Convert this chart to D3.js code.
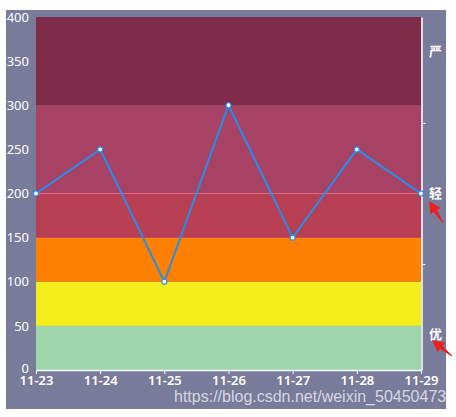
<!DOCTYPE html>
<html>
<head>
<meta charset="utf-8">
<script src="https://cdn.jsdelivr.net/npm/d3@7"></script>
<style>
  body { margin: 0; background: #fff; }
  svg { display: block; }
</style>
</head>
<body>
<script>
var width = 456,
    height = 417;

// data
var dates = ["11-23", "11-24", "11-25", "11-26", "11-27", "11-28", "11-29"];
var values = [200, 250, 100, 300, 150, 250, 200];
var yTicks = [0, 50, 100, 150, 200, 250, 300, 350, 400];

// colour bands (value ranges)
var bandFrom = [0, 50, 100, 150, 200, 300];
var bandTo = [50, 100, 150, 200, 300, 400];
var bandColors = ["#9dd6a9", "#f4ee1a", "#ff7f00", "#b83f53", "#a84264", "#7f2c4b"];

// right-hand level labels
var levelNames = ["优", "轻", "严"];
var levelAt = [41, 201, 362];
var levelTicks = [120, 280];

// plot box
var plotLeft = 36, plotRight = 421, plotTop = 17, plotBottom = 370;

var svg = d3.select("body")
    .append("svg")
    .attr("width", width)
    .attr("height", height);

//background panel
svg.append("rect")
    .attr("x", 6).attr("y", 10)
    .attr("width", 440).attr("height", 399)
    .attr("fill", "#797b9b");

var x = d3.scalePoint().domain(dates).range([plotLeft, plotRight]);
var y = d3.scaleLinear().domain([0, 400]).range([plotBottom, plotTop]);

// bands
svg.append("g").selectAll("rect")
    .data(bandFrom)
    .enter().append("rect")
    .attr("x", plotLeft)
    .attr("width", plotRight - plotLeft)
    .attr("y", function(d, i) { return y(bandTo[i]); })
    .attr("height", function(d, i) { return y(d) - y(bandTo[i]); })
    .attr("fill", function(d, i) { return bandColors[i]; });

// thin line on 200
svg.append("line")
    .attr("x1", plotLeft).attr("x2", plotRight)
    .attr("y1", y(200)).attr("y2", y(200))
    .attr("stroke", "#e06a7c").attr("stroke-width", 1);

// left axis, labels only
var yAxis = svg.append("g")
    .attr("transform", "translate(" + 29 + ",0)")
    .call(d3.axisLeft(y).tickValues(yTicks).tickSize(0).tickPadding(0));
yAxis.select(".domain").remove();
yAxis.selectAll("text")
    .attr("fill", "#fff")
    .attr("font-family", "Noto Sans, sans-serif")
    .attr("font-size", "13px");
// "0" sits a touch higher in the reference
yAxis.selectAll(".tick text").filter(function(d) { return d === 0; })
    .attr("dy", "0.2em");

// bottom axis
var xAxis = svg.append("g")
    .attr("transform", "translate(0," + plotBottom + ")")
    .call(d3.axisBottom(x).tickSize(4).tickSizeOuter(0).tickPadding(2));
xAxis.select(".domain").attr("stroke", "#fff").attr("stroke-width", 1.5);
xAxis.selectAll(".tick line").attr("stroke", "#fff");
xAxis.selectAll("text")
    .attr("fill", "#fff")
    .attr("font-family", "Noto Sans, sans-serif")
    .attr("font-weight", "600")
    .attr("font-size", "13px");

// right axis
var yR = svg.append("g")
    .attr("transform", "translate(" + (plotRight + 0.5) + ",0)")
    .call(d3.axisRight(y).tickValues(levelTicks).tickSize(4).tickSizeOuter(0).tickFormat(""));
yR.select(".domain").attr("stroke", "#fff").attr("stroke-width", 1.5);
yR.selectAll(".tick line").attr("stroke", "#fff");

svg.append("g").selectAll("text")
    .data(levelNames)
    .enter().append("text")
    .attr("x", 429)
    .attr("y", function(d, i) { return y(levelAt[i]) + 5; })
    .text(function(d) { return d; })
    .attr("fill", "#fff")
    .attr("font-family", "Noto Sans CJK SC, sans-serif")
    .attr("font-weight", "bold")
    .attr("font-size", "13px");

// line
var line = d3.line()
    .x(function(d, i) { return x(dates[i]); })
    .y(function(d) { return y(d); });

svg.append("path")
    .attr("d", line(values))
    .attr("fill", "none")
    .attr("stroke", "#1e90f0")
    .attr("stroke-width", 2);

svg.append("g").selectAll("circle")
    .data(values)
    .enter().append("circle")
    .attr("cx", function(d, i) { return x(dates[i]); })
    .attr("cy", function(d) { return y(d); })
    .attr("r", 2.5)
    .attr("fill", "#fff")
    .attr("stroke", "#1e90f0")
    .attr("stroke-width", 1.2);

// red annotation arrows
var arrows = [[443, 223, 429, 201], [452, 356, 432, 340]];
arrows.forEach(function(a) {
    var dx = a[2] - a[0], dy = a[3] - a[1];
    var len = Math.sqrt(dx * dx + dy * dy);
    var ux = dx / len, uy = dy / len, px = -uy, py = ux;
    var bx = a[2] - ux * 12, by = a[3] - uy * 12;
    svg.append("path")
        .attr("d", "M" + a[0] + "," + a[1] + " L" + (bx + px * 1.5) + "," + (by + py * 1.5) +
                   " L" + (bx - px * 1.5) + "," + (by - py * 1.5) + " Z")
        .attr("fill", "#f01e1e").attr("stroke", "#f01e1e").attr("stroke-width", 1);
    svg.append("path")
        .attr("d", "M" + a[2] + "," + a[3] + " L" + (bx + px * 6) + "," + (by + py * 6) +
                   " L" + (bx - px * 6) + "," + (by - py * 6) + " Z")
        .attr("fill", "#f01e1e");
});

// watermark
svg.append("text")
    .attr("x", 174).attr("y", 402)
    .text("https://blog.csdn.net/weixin_50450473")
    .attr("fill", "#d6d6e2")
    .attr("font-family", "Liberation Sans, Arial, sans-serif")
    .attr("font-size", "16px");
</script>
</body>
</html>
